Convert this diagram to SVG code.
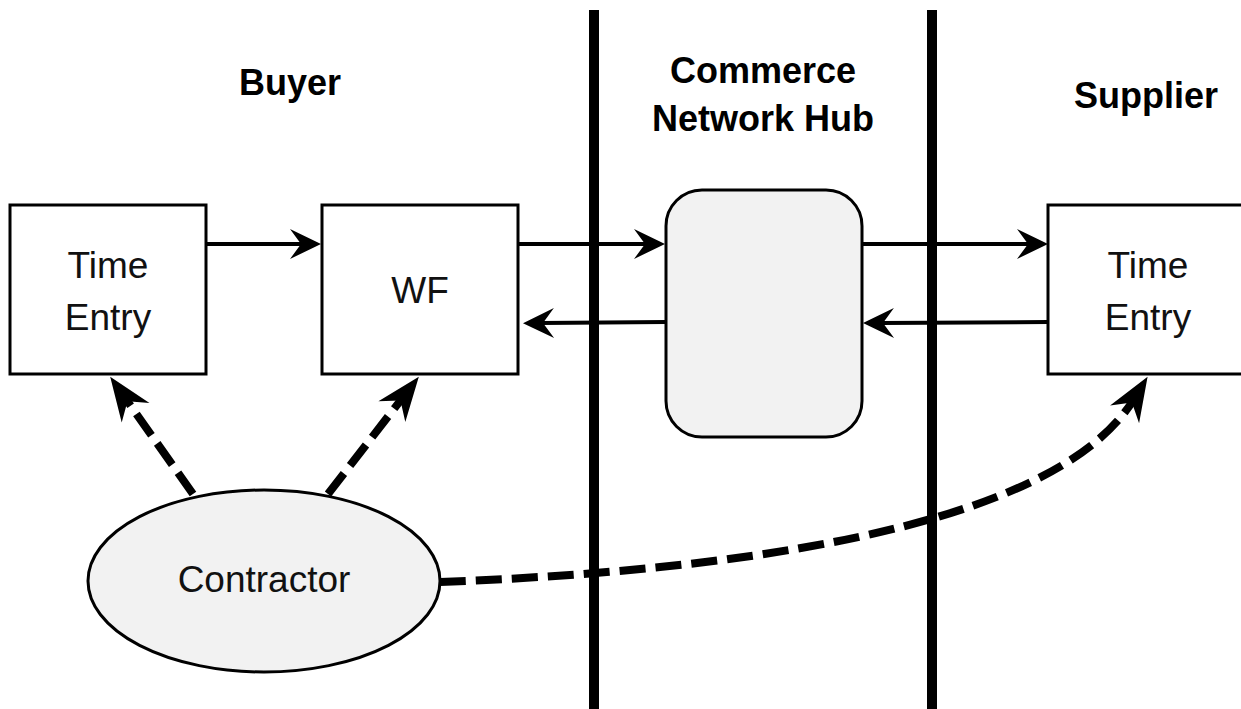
<svg xmlns="http://www.w3.org/2000/svg" width="1241" height="709" viewBox="0 0 1241 709">
<style>
.box{fill:#fff;stroke:#000;stroke-width:3}
.soft{fill:#f2f2f2;stroke:#000;stroke-width:3}
.lbl{font-family:"Liberation Sans",Arial,sans-serif;font-size:37px;fill:#111;text-anchor:middle}
.ttl{font-family:"Liberation Sans",Arial,sans-serif;font-size:36px;font-weight:bold;fill:#000;text-anchor:middle}
.sep{stroke:#000;stroke-width:10}
.arr{fill:none;stroke:#000;stroke-width:4;marker-end:url(#ah)}
.dash{fill:none;stroke:#000;stroke-width:8;stroke-dasharray:26 10;marker-end:url(#dh)}
</style>
<defs>
<marker id="ah" markerUnits="userSpaceOnUse" viewBox="-32 -17 34 34" markerWidth="34" markerHeight="34" refX="-18" refY="0" orient="auto">
<path d="M0,0 L-31,-15 L-20,0 L-31,15 Z" fill="#000"/>
</marker>
<marker id="dh" markerUnits="userSpaceOnUse" viewBox="-46 -19 48 38" markerWidth="48" markerHeight="38" refX="-26" refY="0" orient="auto">
<path d="M0,0 L-44,-17 L-30,0 L-44,17 Z" fill="#000"/>
</marker>
</defs>
<rect width="1241" height="709" fill="#fff"/>
<g id="separators">
<line class="sep" x1="594" y1="10" x2="594" y2="709"/>
<line class="sep" x1="932" y1="10" x2="932" y2="709"/>
</g>
<g id="titles">
<text class="ttl" x="290" y="95">Buyer</text>
<text class="ttl" x="763" y="83">Commerce</text>
<text class="ttl" x="763" y="131">Network Hub</text>
<text class="ttl" x="1146" y="108">Supplier</text>
</g>
<g id="connectors">
<line class="arr" x1="206" y1="244" x2="303" y2="244"/>
<line class="arr" x1="518" y1="244" x2="647" y2="244"/>
<line class="arr" x1="666" y1="322" x2="541" y2="323"/>
<line class="arr" x1="862" y1="244" x2="1030" y2="244"/>
<line class="arr" x1="1048" y1="322" x2="881" y2="323"/>
<line class="dash" x1="193" y1="494" x2="125.2" y2="398.1"/>
<line class="dash" x1="328" y1="494" x2="402.9" y2="397.4"/>
<path class="dash" d="M440,582 C700,572 1050,536 1134,399"/>
</g>
<g id="buyer-time-entry">
<rect class="box" x="10" y="205" width="196" height="169"/>
<text class="lbl" x="108" y="278">Time</text>
<text class="lbl" x="108" y="330">Entry</text>
</g>
<g id="wf">
<rect class="box" x="322" y="205" width="196" height="169"/>
<text class="lbl" x="420" y="303">WF</text>
</g>
<g id="hub">
<rect class="soft" x="666" y="190" width="196" height="247" rx="36" ry="36"/>
</g>
<g id="supplier-time-entry">
<rect class="box" x="1048" y="205" width="200" height="169"/>
<text class="lbl" x="1148" y="278">Time</text>
<text class="lbl" x="1148" y="330">Entry</text>
</g>
<g id="contractor">
<ellipse class="soft" cx="264" cy="581" rx="176" ry="91"/>
<text class="lbl" x="264" y="592">Contractor</text>
</g>
</svg>
